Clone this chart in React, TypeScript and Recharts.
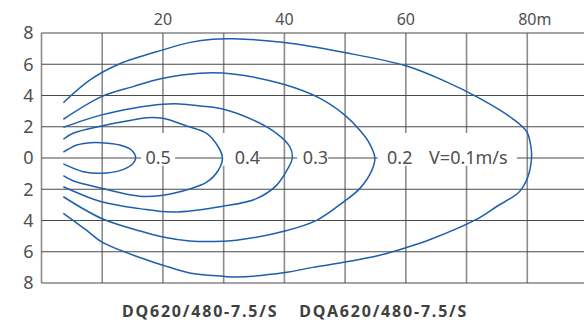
import {
  LineChart,
  Line,
  XAxis,
  YAxis,
  CartesianGrid,
  ReferenceArea,
  ReferenceDot,
} from "recharts";

type Pt = { x: number; y: number };
const pts = (a: number[][]): Pt[] => a.map(([x, y]) => ({ x, y }));

// distance along the jet (m) / lateral spread (m), one closed contour per velocity
const v01 = pts([
  [3.6, 3.54], [8.0, 5.0], [12.9, 6.03], [20.0, 6.92], [24.5, 7.4], [28.2, 7.6], [31.5, 7.63],
  [40.0, 7.39], [49.9, 6.75], [60.0, 5.9], [66.6, 4.89], [72.1, 3.83], [77.5, 2.54],
  [79.9, 1.69], [80.6, 0.72], [80.7, 0.0], [80.1, -1.2], [78.7, -2.16], [74.9, -3.12],
  [71.6, -3.93], [64.0, -5.22], [60.1, -5.73], [55.7, -6.22], [49.1, -6.72], [44.7, -7.0],
  [40.1, -7.33], [32.1, -7.62], [29.9, -7.57], [24.4, -7.36], [20.0, -6.86], [16.2, -6.37],
  [9.9, -5.37], [7.4, -4.62], [3.6, -3.54],
]);
const v02 = pts([
  [3.6, 2.48], [9.9, 3.93], [15.1, 4.57], [20.0, 5.11], [26.1, 5.43], [31.5, 5.38],
  [40.0, 4.7], [45.8, 3.83], [49.9, 2.76], [52.4, 1.79], [54.0, 0.94], [54.9, 0.0],
  [54.4, -0.79], [52.4, -1.96], [49.7, -2.82], [45.3, -3.99], [40.1, -4.67], [32.1, -5.27],
  [29.9, -5.33], [24.4, -5.31], [20.0, -5.06], [16.2, -4.67], [9.9, -3.87], [3.6, -2.48],
]);
const v03 = pts([
  [3.6, 1.97], [9.9, 2.76], [15.1, 3.19], [20.0, 3.44], [22.8, 3.46], [26.1, 3.33],
  [30.0, 3.12], [34.8, 2.44], [38.7, 1.58], [40.9, 0.72], [41.3, 0.0], [40.4, -0.8],
  [38.7, -1.75], [35.4, -2.6], [29.9, -3.09], [21.7, -3.46], [16.2, -3.24], [9.9, -2.8],
  [3.6, -1.84],
]);
const v04 = pts([
  [3.6, 1.2], [5.2, 1.58], [9.9, 2.05], [15.1, 2.44], [17.3, 2.58], [20.0, 2.54],
  [23.9, 2.05], [27.2, 1.58], [29.1, 0.72], [29.8, 0.0], [29.1, -0.8], [27.2, -1.55],
  [24.4, -1.98], [20.0, -2.38], [16.2, -2.45], [9.9, -1.94], [5.2, -1.46], [3.6, -1.13],
]);
const v05 = pts([
  [3.6, 0.37], [5.8, 0.83], [8.0, 0.98], [9.9, 0.98], [12.9, 0.83], [14.8, 0.51],
  [15.5, 0.0], [14.8, -0.45], [12.9, -0.81], [9.9, -0.98], [6.9, -0.88], [3.6, -0.38],
]);
const contours = [v01, v02, v03, v04, v05];

const xTicks = [0, 10, 20, 30, 40, 50, 60, 70, 80, 90];
const xLabelValues = [20, 40, 60, 80];
const xLabelTexts = ["20", "40", "60", "80m"];
const yTicks = [-8, -6, -4, -2, 0, 2, 4, 6, 8];

const levelTexts = ["0.5", "0.4", "0.3", "0.2", "V=0.1m/s"];
const levelX = [19.2, 33.9, 45.1, 59.0, 70.3];
// white patches behind the level labels
const gapFrom = [16.4, 29.85, 42.1, 55.4];
const gapTo = [22.0, 35.8, 47.2, 78.3];

const models = ["DQ620/480-7.5/S", "DQA620/480-7.5/S"];

const FONT = "'Noto Sans', sans-serif";
const BLUE = "#1d5fae";
const TXT = "#505050";

// centripetal catmull-rom, so the closed loops bend smoothly without cusps
function smoothLoop(ctx: any) {
  let p: number[][] = [];
  const d = (a: number[], b: number[]) => Math.sqrt(Math.hypot(b[0] - a[0], b[1] - a[1]));
  return {
    areaStart() {},
    areaEnd() {},
    lineStart() {
      p = [];
    },
    point(x: number, y: number) {
      p.push([+x, +y]);
    },
    lineEnd() {
      if (!p.length) return;
      ctx.moveTo(p[0][0], p[0][1]);
      for (let i = 0; i < p.length - 1; i++) {
        const p0 = p[i - 1] || p[i];
        const p1 = p[i];
        const p2 = p[i + 1];
        const p3 = p[i + 2] || p2;
        const l01 = d(p0, p1);
        const l12 = d(p1, p2);
        const l23 = d(p2, p3);
        let c1 = [p1[0], p1[1]];
        let c2 = [p2[0], p2[1]];
        if (l01 > 1e-6) {
          const a = 2 * l01 * l01 + 3 * l01 * l12 + l12 * l12;
          const n = 3 * l01 * (l01 + l12);
          c1 = [0, 1].map((k) => (p1[k] * a - p0[k] * l12 * l12 + p2[k] * l01 * l01) / n);
        }
        if (l23 > 1e-6) {
          const b = 2 * l23 * l23 + 3 * l23 * l12 + l12 * l12;
          const m = 3 * l23 * (l23 + l12);
          c2 = [0, 1].map((k) => (p2[k] * b + p1[k] * l23 * l23 - p3[k] * l12 * l12) / m);
        }
        ctx.bezierCurveTo(c1[0], c1[1], c2[0], c2[1], p2[0], p2[1]);
      }
    },
  };
}

function TopTick({ x, y, payload }: any) {
  const i = xLabelValues.indexOf(payload.value);
  if (i < 0) return null;
  const text = xLabelTexts[i];
  const num = text.replace(/[^0-9]/g, "");
  const w = num.length * 0.572 * 16;
  return (
    <text x={x - w / 2} y={y} textAnchor="start" fill={TXT} fontSize={16} fontFamily={FONT}>
      {text}
    </text>
  );
}

export default function App() {
  return (
    <div
      style={{
        position: "absolute",
        left: 0,
        top: 0,
        width: 584,
        height: 329,
        overflow: "hidden",
        background: "#fff",
        fontFamily: FONT,
      }}
    >
      <LineChart width={588} height={329} margin={{ top: 0, right: 0, bottom: 46, left: 0 }}>
        <CartesianGrid horizontal={false} stroke="#8c8c8c" strokeWidth={1.6} />
        <CartesianGrid vertical={false} stroke="#4a4a4a" strokeWidth={1.1} />
        <XAxis
          type="number"
          dataKey="x"
          orientation="top"
          domain={[0, 90]}
          ticks={xTicks}
          height={33}
          axisLine={false}
          tickLine={false}
          tick={<TopTick />}
          interval={0}
        />
        <YAxis
          type="number"
          dataKey="y"
          domain={[-8, 8]}
          ticks={yTicks}
          width={41.5}
          axisLine={false}
          tickLine={false}
          interval={0}
          tickFormatter={(v: number) => String(Math.abs(v))}
          tick={{ fill: TXT, fontSize: 18, fontFamily: FONT }}
        />
        {gapFrom.map((x1, i) => (
          <ReferenceArea
            key={"g" + i}
            x1={x1}
            x2={gapTo[i]}
            y1={-0.5}
            y2={1.6}
            fill="#fff"
            fillOpacity={1}
            stroke="none"
          />
        ))}
        {contours.map((c, i) => (
          <Line
            key={"c" + i}
            data={c}
            dataKey="y"
            type={smoothLoop as any}
            stroke={BLUE}
            strokeWidth={1.5}
            dot={false}
            activeDot={false}
            isAnimationActive={false}
          />
        ))}
        {levelTexts.map((t, i) => (
          <ReferenceDot
            key={"l" + i}
            x={levelX[i]}
            y={0}
            r={0}
            fill="none"
            stroke="none"
            label={{ value: t, position: "center", fill: TXT, fontSize: 18, fontFamily: FONT }}
          />
        ))}
      </LineChart>
      <div
        style={{
          position: "absolute",
          left: 122,
          top: 300,
          display: "flex",
          gap: 21,
          fontWeight: 700,
          fontSize: 16,
          letterSpacing: 1.8,
          color: "#404040",
          whiteSpace: "pre",
        }}
      >
        {models.map((m) => (
          <span key={m}>{m}</span>
        ))}
      </div>
    </div>
  );
}
